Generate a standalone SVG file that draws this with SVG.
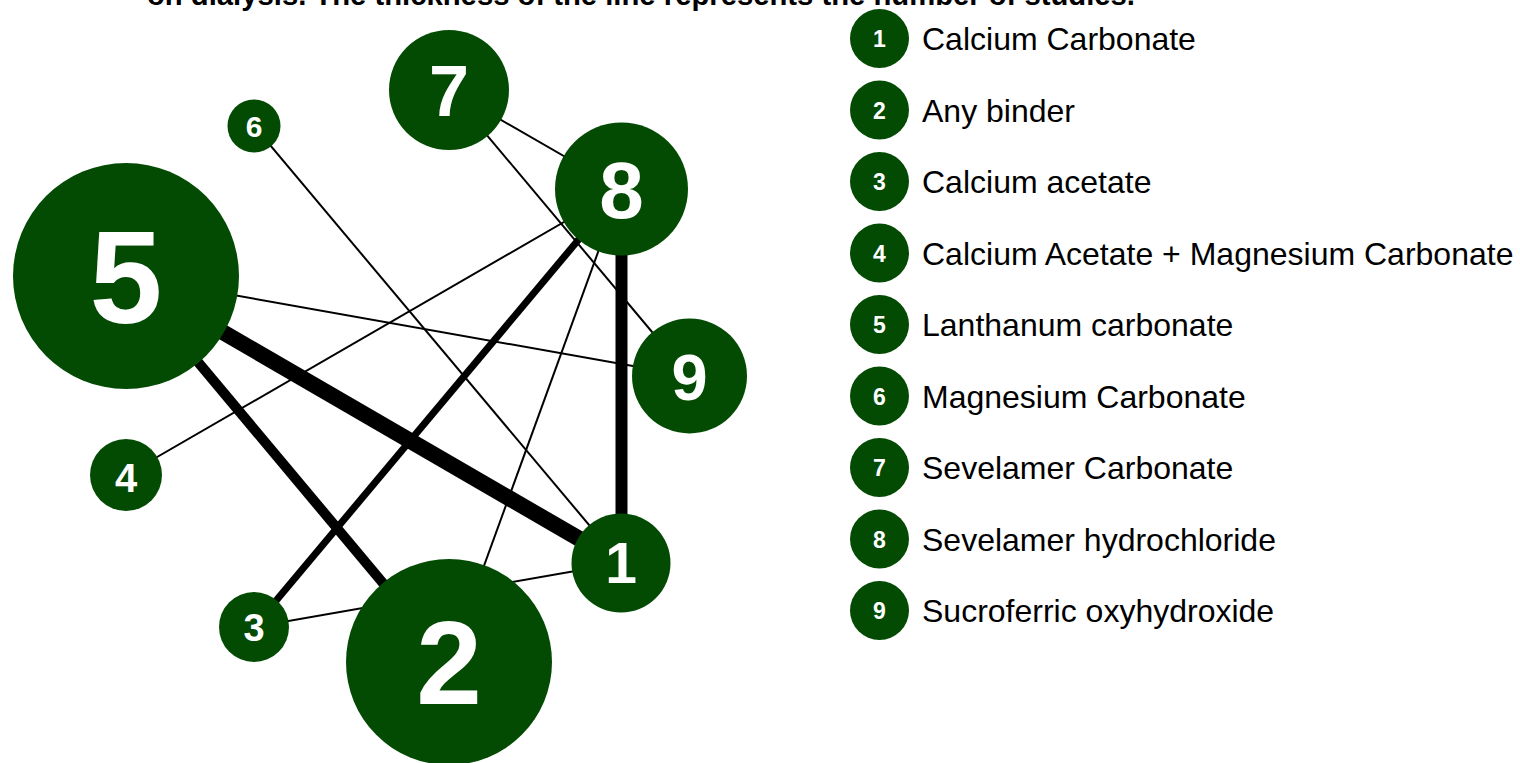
<svg xmlns="http://www.w3.org/2000/svg" width="1520" height="763" viewBox="0 0 1520 763">
<style>
.node{fill:#034a03}
.num{fill:#ffffff;font-family:"Liberation Sans",Arial,sans-serif;font-weight:bold;text-anchor:middle}
.edge{stroke:#000000;stroke-linecap:butt;fill:none}
.lab{fill:#000000;font-family:"Liberation Sans",Arial,sans-serif;font-size:32px}
.title{fill:#000000;font-family:"Liberation Sans",Arial,sans-serif;font-weight:bold;font-size:29px}
</style>
<rect width="1520" height="763" fill="#ffffff"/>
<text class="title" x="147" y="5" textLength="988" lengthAdjust="spacingAndGlyphs">on dialysis. The thickness of the line represents the number of studies.</text>
<g id="connectors">
<line class="edge" x1="126" y1="276" x2="621" y2="563" stroke-width="16"/>
<line class="edge" x1="126" y1="276" x2="449" y2="662" stroke-width="10"/>
<line class="edge" x1="621.5" y1="189" x2="621.5" y2="563" stroke-width="12"/>
<line class="edge" x1="621" y1="189" x2="254" y2="627" stroke-width="7"/>
<line class="edge" x1="126" y1="276" x2="689" y2="376" stroke-width="2"/>
<line class="edge" x1="126" y1="475" x2="621" y2="189" stroke-width="2"/>
<line class="edge" x1="254" y1="126" x2="621" y2="563" stroke-width="2"/>
<line class="edge" x1="449" y1="90" x2="621" y2="189" stroke-width="2"/>
<line class="edge" x1="449" y1="90" x2="689" y2="376" stroke-width="2"/>
<line class="edge" x1="621" y1="189" x2="449" y2="662" stroke-width="2"/>
<line class="edge" x1="254" y1="627" x2="621" y2="563" stroke-width="2"/>
</g>
<g id="node1"><circle class="node" cx="621" cy="563" r="49.5"/><text class="num" x="621" y="583" font-size="57">1</text></g>
<g id="node2"><circle class="node" cx="449" cy="662" r="103"/><text class="num" x="449" y="704" font-size="118">2</text></g>
<g id="node3"><circle class="node" cx="254" cy="627" r="35"/><text class="num" x="254" y="641" font-size="38">3</text></g>
<g id="node4"><circle class="node" cx="126" cy="475" r="36"/><text class="num" x="126" y="492" font-size="40">4</text></g>
<g id="node5"><circle class="node" cx="126" cy="276" r="113"/><text class="num" x="126" y="323" font-size="131">5</text></g>
<g id="node6"><circle class="node" cx="254" cy="126" r="26.5"/><text class="num" x="254" y="137" font-size="30">6</text></g>
<g id="node7"><circle class="node" cx="449" cy="90" r="60"/><text class="num" x="449" y="116" font-size="72">7</text></g>
<g id="node8"><circle class="node" cx="621.5" cy="189" r="66.5"/><text class="num" x="621.5" y="218" font-size="80">8</text></g>
<g id="node9"><circle class="node" cx="689.5" cy="376" r="57.5"/><text class="num" x="689.5" y="400" font-size="65">9</text></g>
<g id="legend">
<g id="legend1"><circle class="node" cx="879.5" cy="38.5" r="29.5"/><text class="num" x="879.5" y="47" font-size="23">1</text><text class="lab" x="922" y="50">Calcium Carbonate</text></g>
<g id="legend2"><circle class="node" cx="879.5" cy="110" r="29.5"/><text class="num" x="879.5" y="118.5" font-size="23">2</text><text class="lab" x="922" y="121.5">Any binder</text></g>
<g id="legend3"><circle class="node" cx="879.5" cy="181.5" r="29.5"/><text class="num" x="879.5" y="190" font-size="23">3</text><text class="lab" x="922" y="193">Calcium acetate</text></g>
<g id="legend4"><circle class="node" cx="879.5" cy="253" r="29.5"/><text class="num" x="879.5" y="261.5" font-size="23">4</text><text class="lab" x="922" y="264.5">Calcium Acetate + Magnesium Carbonate</text></g>
<g id="legend5"><circle class="node" cx="879.5" cy="324.5" r="29.5"/><text class="num" x="879.5" y="333" font-size="23">5</text><text class="lab" x="922" y="336">Lanthanum carbonate</text></g>
<g id="legend6"><circle class="node" cx="879.5" cy="396" r="29.5"/><text class="num" x="879.5" y="404.5" font-size="23">6</text><text class="lab" x="922" y="407.5">Magnesium Carbonate</text></g>
<g id="legend7"><circle class="node" cx="879.5" cy="467.5" r="29.5"/><text class="num" x="879.5" y="476" font-size="23">7</text><text class="lab" x="922" y="479">Sevelamer Carbonate</text></g>
<g id="legend8"><circle class="node" cx="879.5" cy="539" r="29.5"/><text class="num" x="879.5" y="547.5" font-size="23">8</text><text class="lab" x="922" y="550.5">Sevelamer hydrochloride</text></g>
<g id="legend9"><circle class="node" cx="879.5" cy="610.5" r="29.5"/><text class="num" x="879.5" y="619" font-size="23">9</text><text class="lab" x="922" y="622">Sucroferric oxyhydroxide</text></g>
</g>
</svg>
